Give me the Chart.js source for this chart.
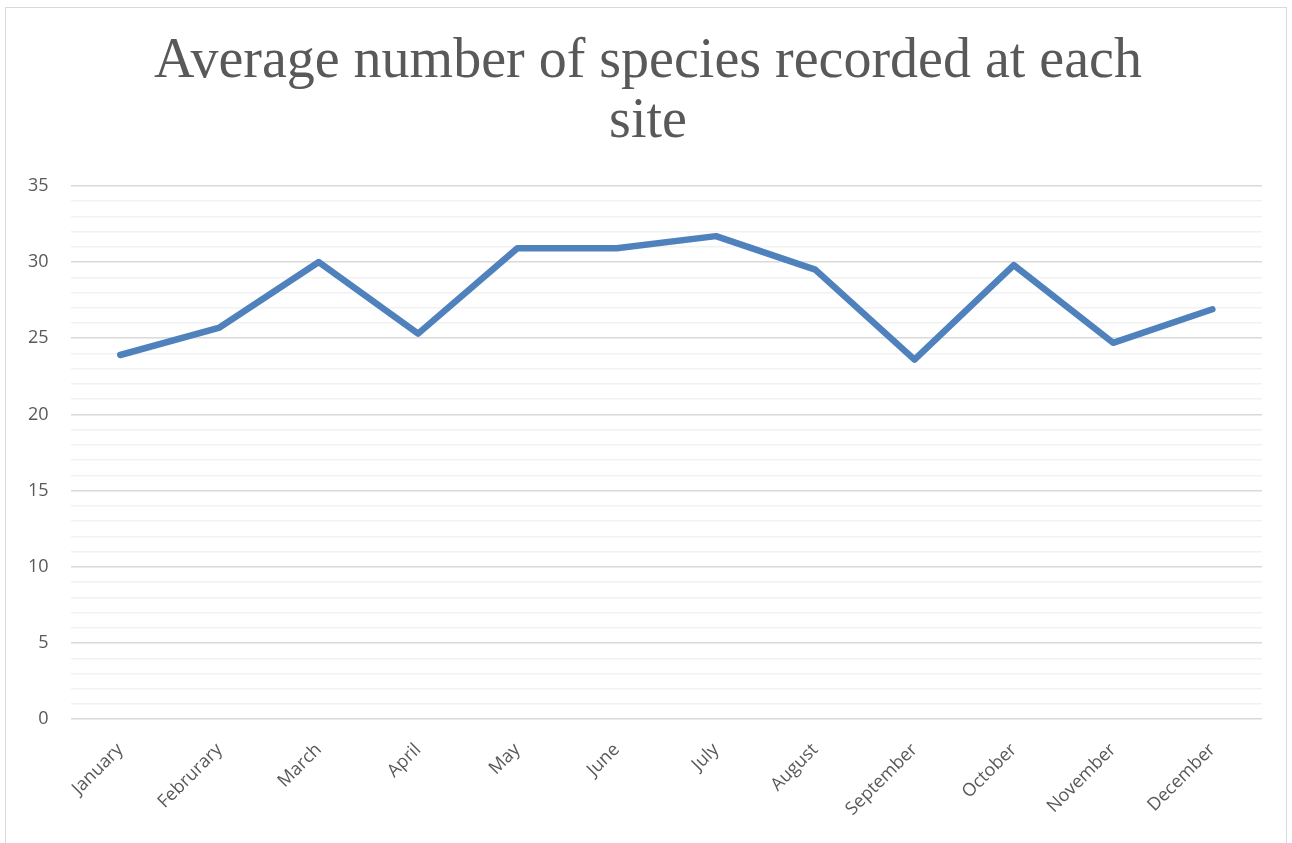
<!DOCTYPE html>
<html>
<head>
<meta charset="utf-8">
<script src="https://cdn.jsdelivr.net/npm/chart.js@4"></script>
<style>
  html, body { margin: 0; padding: 0; background: #fff; overflow: hidden; }
  #frame { position: absolute; left: 5px; top: 7px; width: 1282px; height: 850px; border: 1px solid #d9d9d9; box-sizing: border-box; }
  #wrap { position: absolute; left: 0; top: 0; width: 1280px; height: 848px; }
</style>
</head>
<body>
<div id="frame"><div id="wrap"><canvas id="c"></canvas></div></div>
<script>
const titleLines = ["Average number of species recorded at each", "site"];
const months = ["January", "Februrary", "March", "April", "May", "June", "July", "August", "September", "October", "November", "December"];
const speciesAvg = [23.9, 25.7, 30.0, 25.3, 30.9, 30.9, 31.7, 29.5, 23.6, 29.8, 24.7, 26.9];
const yMin = 0, yMax = 35, yMajorStep = 5, yMinorStep = 1;

// widen the y-axis label clip box to the canvas edge so labels can sit in the left padding
const unclipYLabels = {
  id: 'unclipYLabels',
  afterLayout(chart) { chart.scales.y.left = 0; }
};

new Chart(document.getElementById('c'), {
  type: 'line',
  plugins: [unclipYLabels],
  data: {
    labels: months,
    datasets: [{
      data: speciesAvg,
      borderColor: '#4f81bd',
      backgroundColor: '#4f81bd',
      borderWidth: 6.5,
      pointRadius: 0,
      pointHoverRadius: 0,
      tension: 0,
      borderCapStyle: 'round',
      borderJoinStyle: 'round',
      fill: false
    }]
  },
  options: {
    responsive: true,
    maintainAspectRatio: false,
    animation: false,
    layout: { padding: { left: 28, right: 24, top: 24, bottom: 16 } },
    plugins: {
      legend: { display: false },
      tooltip: { enabled: false },
      title: {
        display: true,
        text: titleLines,
        color: '#595959',
        font: { family: '"Liberation Serif", serif', size: 56, weight: 'normal', lineHeight: 1.07 },
        padding: { top: 0, bottom: 34 }
      }
    },
    scales: {
      x: {
        offset: true,
        grid: { display: false, drawTicks: false },
        border: { display: false },
        afterFit: (scale) => { scale.paddingLeft = 0; scale.paddingRight = 0; },
        ticks: {
          color: '#595959',
          font: { family: '"Open Sans", sans-serif', size: 18 },
          maxRotation: 45, minRotation: 45,
          padding: 20,
          autoSkip: false
        }
      },
      y: {
        min: yMin, max: yMax,
        border: { display: false },
        afterFit: (scale) => { scale.width = Math.max(scale.width - 28, 0); },
        grid: {
          drawTicks: false,
          color: (ctx) => (ctx.tick && ctx.tick.value % yMajorStep === 0) ? '#d9d9d9' : '#f2f2f2',
          lineWidth: 1.5
        },
        ticks: {
          stepSize: yMinorStep,
          autoSkip: false,
          color: '#595959',
          font: { family: '"Open Sans", sans-serif', size: 18 },
          padding: 22,
          callback: (v) => (v % yMajorStep === 0) ? String(v) : ''
        }
      }
    }
  }
});
</script>
</body>
</html>
